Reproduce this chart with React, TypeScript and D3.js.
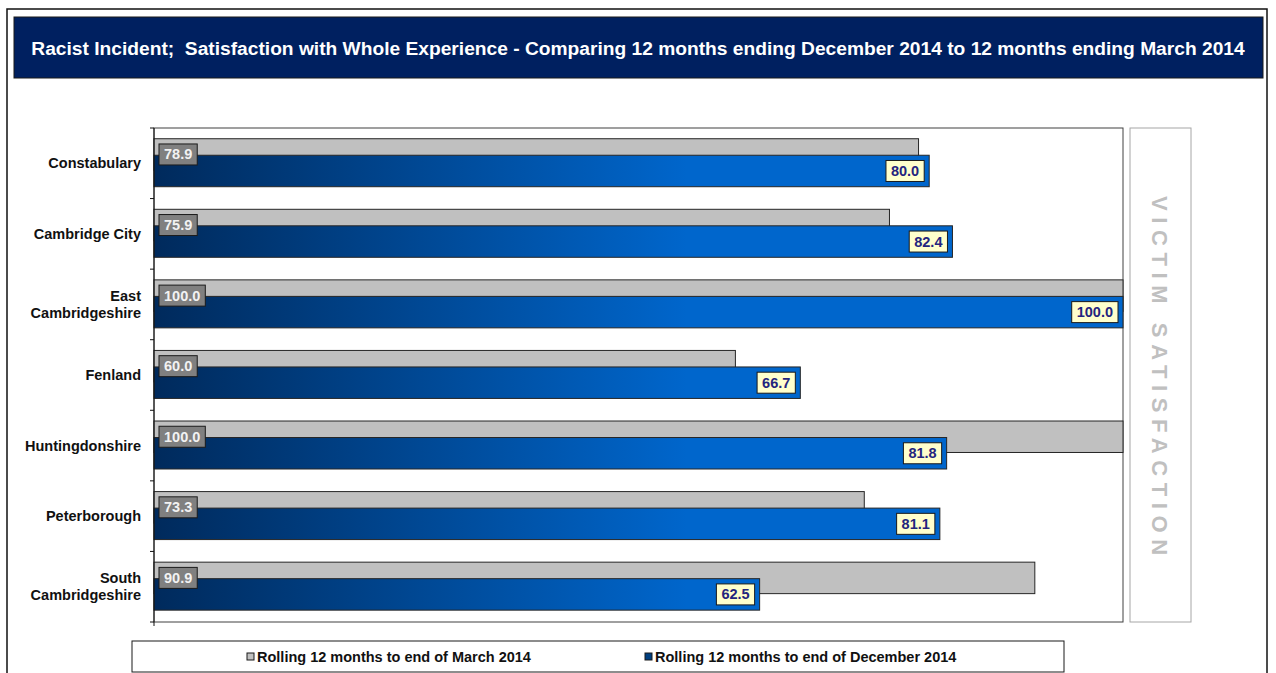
import { useEffect, useRef } from "react";
import * as d3 from "d3";

const categories = [
  "Constabulary",
  "Cambridge City",
  "East\nCambridgeshire",
  "Fenland",
  "Huntingdonshire",
  "Peterborough",
  "South\nCambridgeshire",
];
const march2014 = [78.9, 75.9, 100.0, 60.0, 100.0, 73.3, 90.9];
const december2014 = [80.0, 82.4, 100.0, 66.7, 81.8, 81.1, 62.5];
const seriesNames = [
  "Rolling 12 months to end of March 2014",
  "Rolling 12 months to end of December 2014",
];
const TITLE =
  "Racist Incident;  Satisfaction with Whole Experience - Comparing 12 months ending December 2014 to 12 months ending March 2014";
const SIDE_LABEL = "VICTIM SATISFACTION";

const W = 1276;
const H = 673;
const PLOT = { left: 154, right: 1123, top: 128, bottom: 622 };
const FONT = "'Liberation Sans', Arial, sans-serif";

export default function App() {
  const svgRef = useRef<SVGSVGElement>(null);

  useEffect(() => {
    if (!svgRef.current) return;
    const svg = d3.select(svgRef.current);
    svg.selectAll("*").remove();

    // page frame + title bar
    svg.append("rect").attr("width", W).attr("height", H).attr("fill", "#fff");
    svg.append("rect")
      .attr("x", 7).attr("y", 9).attr("width", 1260).attr("height", 700)
      .attr("fill", "#fff").attr("stroke", "#111").attr("stroke-width", 1.5);
    svg.append("rect")
      .attr("x", 14).attr("y", 17).attr("width", 1249).attr("height", 61)
      .attr("fill", "#002060").attr("stroke", "#1a1a1a");
    svg.append("text")
      .attr("x", 638).attr("y", 54.5)
      .attr("text-anchor", "middle")
      .attr("fill", "#fff").attr("font-family", FONT).attr("font-weight", "bold")
      .attr("font-size", 19.2)
      .style("white-space", "pre")
      .text(TITLE);

    const x = d3.scaleLinear().domain([0, 100]).range([PLOT.left, PLOT.right]);
    const y = d3.scaleBand<string>().domain(categories).range([PLOT.top, PLOT.bottom]);
    const step = y.step();
    const barH = step * 0.446;
    const grayOff = step * 0.152;
    const blueOff = grayOff + step * 0.234;

    const defs = svg.append("defs");
    const grad = defs.append("linearGradient")
      .attr("id", "blueGrad")
      .attr("gradientUnits", "userSpaceOnUse")
      .attr("x1", x(0)).attr("x2", x(55)).attr("y1", 0).attr("y2", 0);
    grad.append("stop").attr("offset", "0%").attr("stop-color", "#002a5c");
    grad.append("stop").attr("offset", "100%").attr("stop-color", "#0066cc");

    // plot frame
    svg.append("rect")
      .attr("x", PLOT.left).attr("y", PLOT.top)
      .attr("width", PLOT.right - PLOT.left).attr("height", PLOT.bottom - PLOT.top)
      .attr("fill", "#fff").attr("stroke", "#404040");

    const g = svg.append("g");

    // gray bars (March)
    g.selectAll("rect.gray")
      .data(categories)
      .join("rect")
      .attr("class", "gray")
      .attr("x", x(0))
      .attr("y", (d) => (y(d) as number) + grayOff)
      .attr("width", (_d, i) => x(march2014[i]) - x(0))
      .attr("height", barH)
      .attr("fill", "#c0c0c0").attr("stroke", "#262626");

    // blue bars (December)
    g.selectAll("rect.blue")
      .data(categories)
      .join("rect")
      .attr("class", "blue")
      .attr("x", x(0))
      .attr("y", (d) => (y(d) as number) + blueOff)
      .attr("width", (_d, i) => x(december2014[i]) - x(0))
      .attr("height", barH)
      .attr("fill", "url(#blueGrad)").attr("stroke", "#262626");

    // y axis
    svg.append("line")
      .attr("x1", PLOT.left).attr("x2", PLOT.left)
      .attr("y1", PLOT.top).attr("y2", PLOT.bottom + 4)
      .attr("stroke", "#111");
    svg.selectAll("line.tick")
      .data(d3.range(categories.length + 1))
      .join("line")
      .attr("class", "tick")
      .attr("x1", PLOT.left - 4).attr("x2", PLOT.left)
      .attr("y1", (i) => PLOT.top + i * step).attr("y2", (i) => PLOT.top + i * step)
      .attr("stroke", "#111");

    // category labels
    categories.forEach((c) => {
      const lines = c.split("\n");
      const cy = (y(c) as number) + step / 2;
      const t = svg.append("text")
        .attr("x", 141)
        .attr("text-anchor", "end")
        .attr("font-family", FONT).attr("font-weight", "bold").attr("font-size", 14.5)
        .attr("fill", "#111");
      lines.forEach((ln, k) => {
        t.append("tspan")
          .attr("x", 141)
          .attr("y", cy + 5 + (k - (lines.length - 1) / 2) * 17)
          .text(ln);
      });
    });

    // value labels
    const label = (
      val: number,
      px: number,
      cy: number,
      anchor: "start" | "end",
      fill: string,
      color: string,
    ) => {
      const lg = svg.append("g");
      const rect = lg.append("rect");
      const t = lg.append("text")
        .attr("font-family", FONT).attr("font-weight", "bold").attr("font-size", 14.5)
        .attr("fill", color)
        .text(val.toFixed(1));
      const tw = (t.node() as SVGTextElement).getComputedTextLength();
      const bw = tw + 10;
      const bh = 21;
      const bx = anchor === "start" ? px + 5 : px - 5 - bw;
      rect.attr("x", bx).attr("y", cy - bh / 2).attr("width", bw).attr("height", bh)
        .attr("fill", fill).attr("stroke", "#1a1a1a");
      t.attr("x", bx + 5).attr("y", cy + 5);
    };

    categories.forEach((c, i) => {
      const top = y(c) as number;
      label(march2014[i], x(0), top + grayOff + barH / 2, "start", "#808080", "#f2f2f2");
      label(december2014[i], x(december2014[i]), top + blueOff + barH / 2, "end", "#ffffcc", "#24247e");
    });

    // side panel
    svg.append("rect")
      .attr("x", 1130).attr("y", PLOT.top).attr("width", 61).attr("height", PLOT.bottom - PLOT.top)
      .attr("fill", "#fff").attr("stroke", "#a6a6a6");
    svg.append("text")
      .attr("transform", `translate(1152,196) rotate(90)`)
      .attr("font-family", FONT).attr("font-weight", "bold").attr("font-size", 22)
      .attr("letter-spacing", 6.6)
      .attr("fill", "#c0c0c0")
      .style("white-space", "pre")
      .text(SIDE_LABEL);

    // legend
    svg.append("rect")
      .attr("x", 132).attr("y", 641).attr("width", 932).attr("height", 31)
      .attr("fill", "#fff").attr("stroke", "#1a1a1a");
    const legendX = [247, 645];
    const legendFill = ["#c0c0c0", "#003f80"];
    seriesNames.forEach((name, i) => {
      svg.append("rect")
        .attr("x", legendX[i]).attr("y", 653).attr("width", 7).attr("height", 7)
        .attr("fill", legendFill[i]).attr("stroke", "#1a1a1a");
      svg.append("text")
        .attr("x", legendX[i] + 10).attr("y", 662)
        .attr("font-family", FONT).attr("font-weight", "bold").attr("font-size", 14.5)
        .attr("fill", "#111")
        .text(name);
    });
  }, []);

  return (
    <svg
      ref={svgRef}
      width={W}
      height={H}
      style={{ position: "absolute", left: 0, top: 0, display: "block" }}
    />
  );
}
